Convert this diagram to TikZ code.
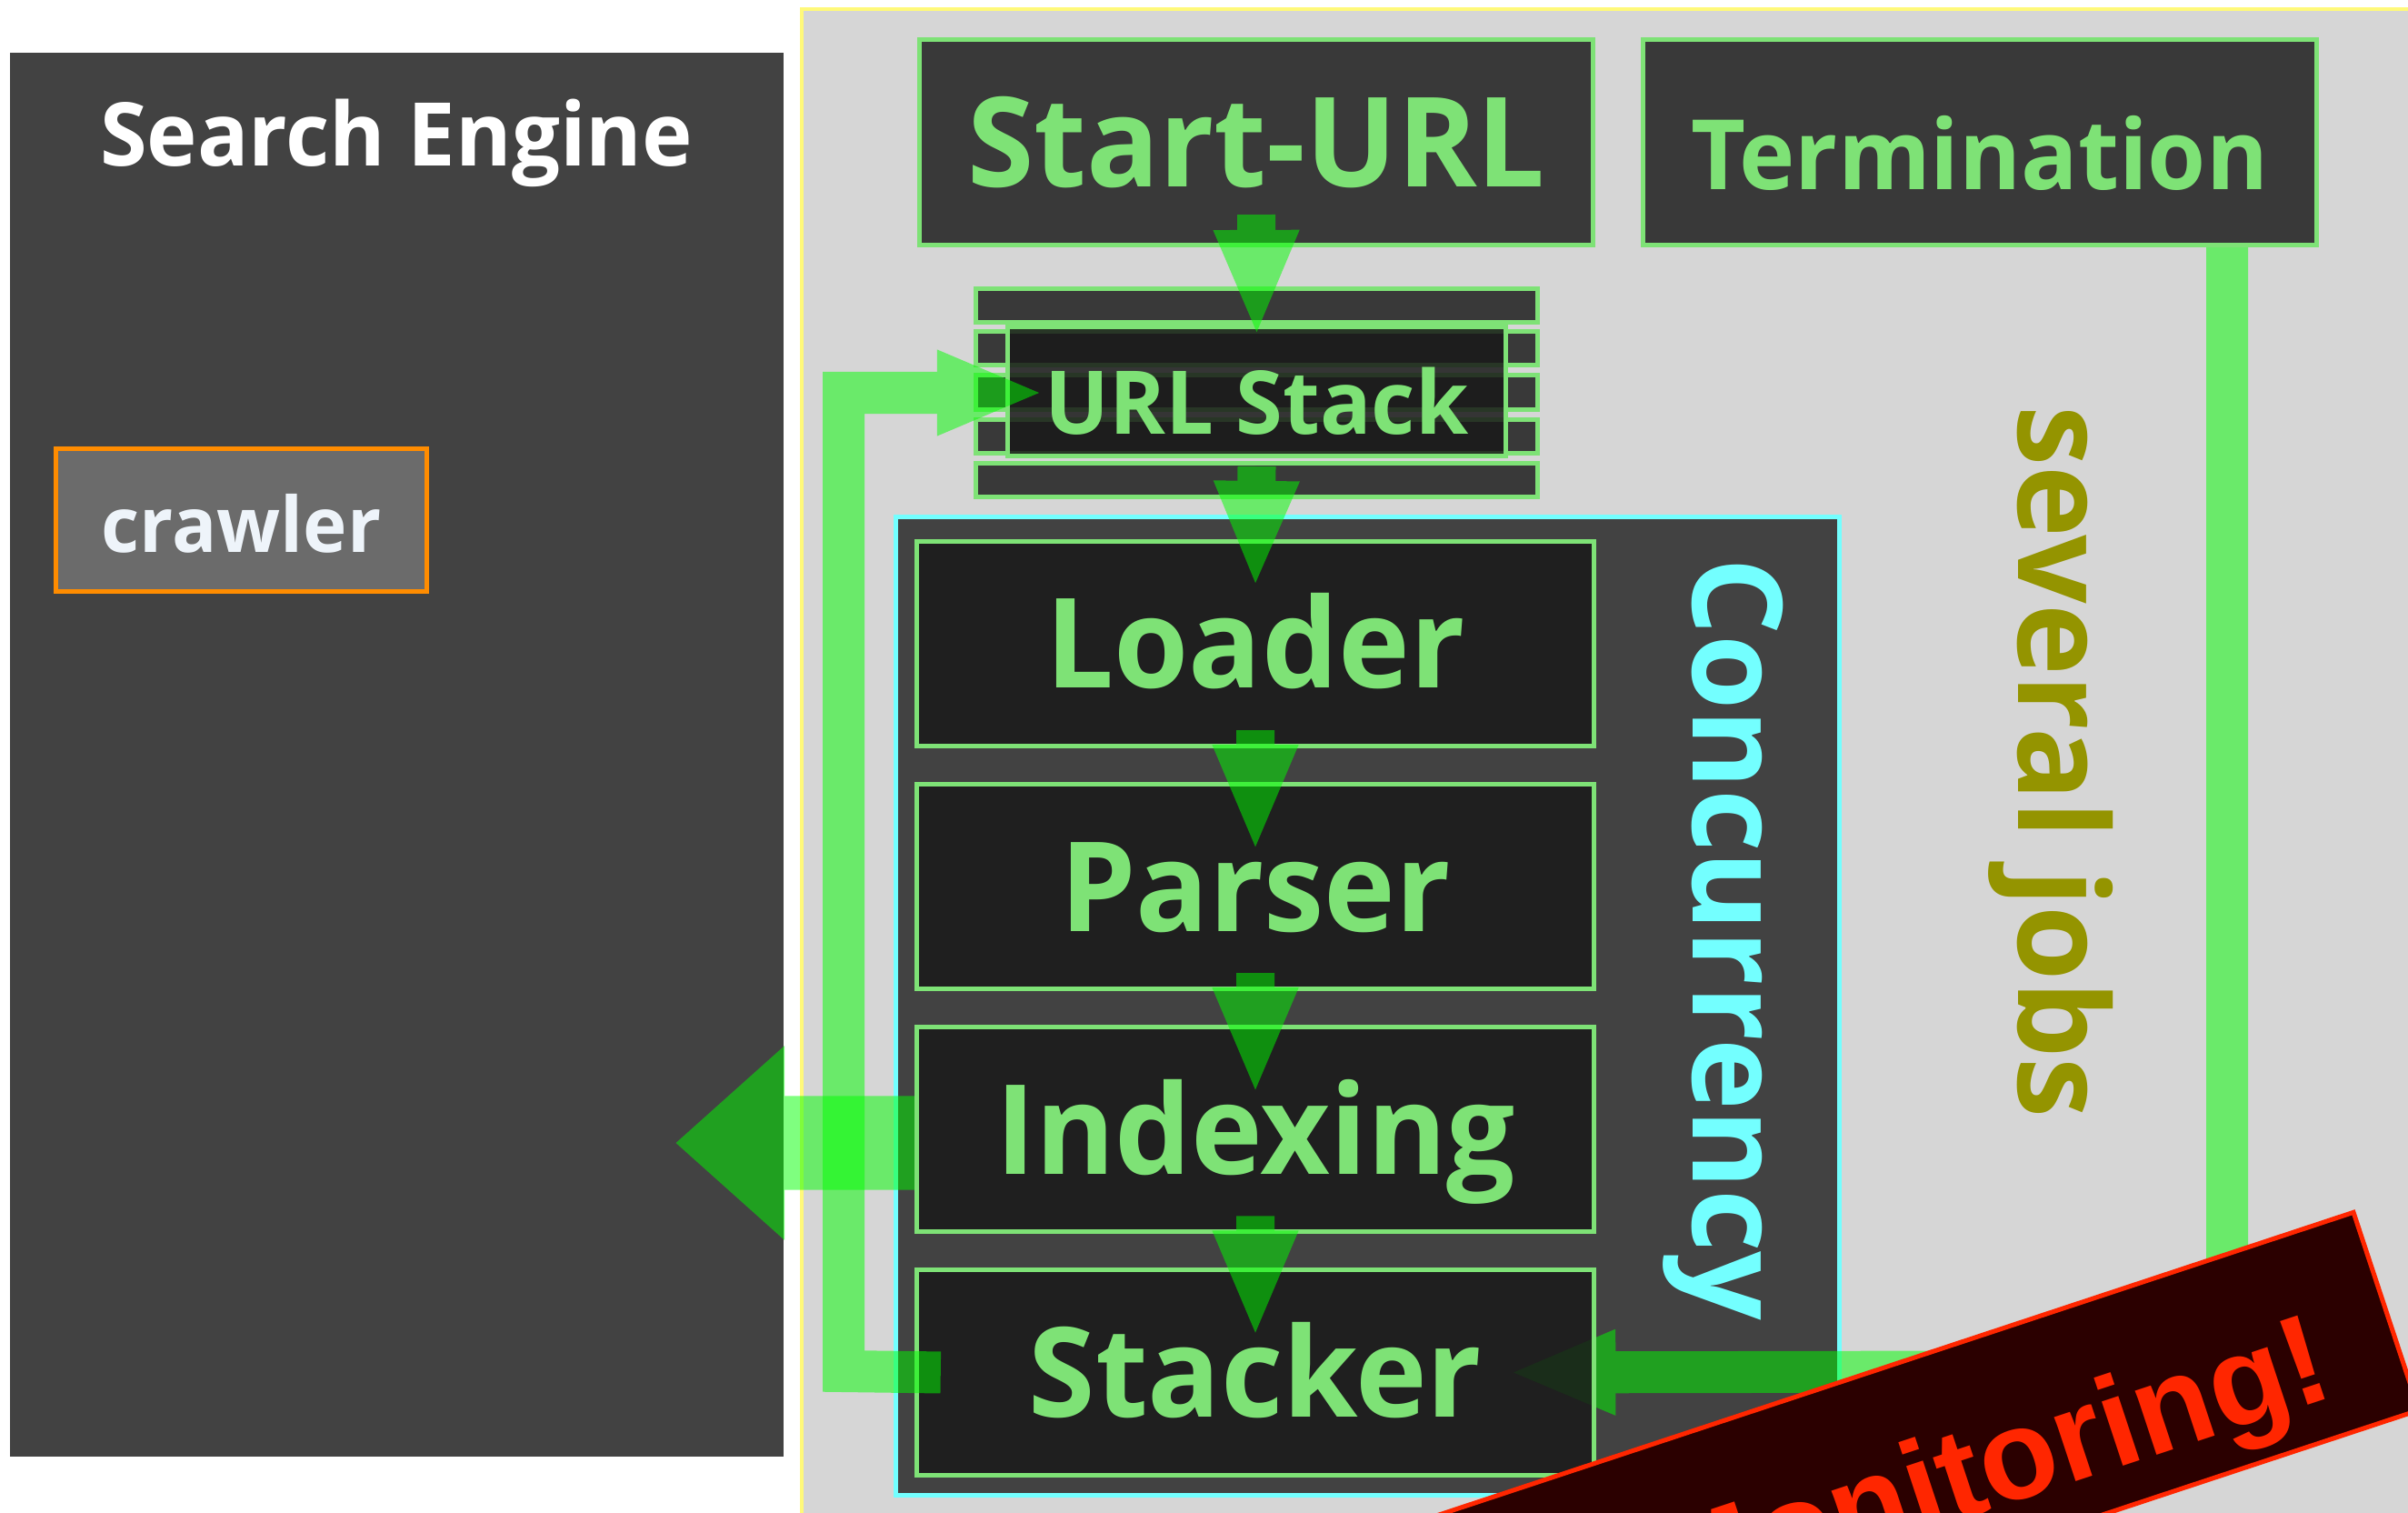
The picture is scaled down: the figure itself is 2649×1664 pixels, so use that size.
\documentclass[tikz,border=0pt]{standalone}
\usepackage{fontspec}
\setmainfont{Open Sans}[FakeStretch=0.97]
\newfontfamily\bannerfont{Liberation Sans}
\usepackage{tikz}
\usetikzlibrary{arrows.meta, positioning, calc}

\definecolor{panelgray}{HTML}{424242}
\definecolor{sheetgray}{HTML}{D6D6D6}
\definecolor{sheetyellow}{HTML}{FFF97A}
\definecolor{boxgreen}{HTML}{7EE276}
\definecolor{boxdark}{HTML}{191919}
\definecolor{topdark}{HTML}{393939}
\definecolor{crawlgray}{HTML}{6B6B6B}
\definecolor{crawlorange}{HTML}{FF8C00}
\definecolor{crawltext}{HTML}{EEF4FA}
\definecolor{concyan}{HTML}{73FFFF}
\definecolor{jobolive}{HTML}{949400}
\definecolor{alarmred}{HTML}{FF2600}
\definecolor{alarmdark}{HTML}{2B0000}
\definecolor{flowgreen}{HTML}{00FF00}

\newcommand{\stagesize}{\fontsize{39pt}{39pt}\selectfont}
\newcommand{\termsize}{\fontsize{30.4pt}{30.4pt}\selectfont}
\newcommand{\stacksize}{\fontsize{27.5pt}{27.5pt}\selectfont}
\newcommand{\titlesize}{\fontsize{27.5pt}{27.5pt}\selectfont}
\newcommand{\crawlsize}{\fontsize{24pt}{24pt}\selectfont}
\newcommand{\alarmsize}{\fontsize{40pt}{40pt}\selectfont}

\pgfdeclarelayer{backdrop}
\pgfdeclarelayer{underlay}
\pgfsetlayers{backdrop,underlay,main}

\begin{document}
\begin{tikzpicture}[
		    x=0.01cm, y=-0.01cm, node distance=0.37cm,
		    every node/.style={inner sep=0pt}
		]
		\tikzset{
		    panel/.style={fill=panelgray},
		    conpanel/.style={fill=panelgray, draw=concyan, line width=0.05cm, minimum width=10.38cm, minimum height=10.76cm},
		    crawlerbox/.style={draw=crawlorange, fill=crawlgray, line width=0.05cm, minimum width=4.08cm, minimum height=1.57cm, text=crawltext, font=\bfseries\crawlsize, text height=20pt, text depth=0pt},
		    topbox/.style={draw=boxgreen, fill=topdark, line width=0.05cm, minimum width=7.41cm, minimum height=2.26cm, text=boxgreen, font=\bfseries\stagesize, text height=27.8pt, text depth=0pt},
		    rail/.style={draw=boxgreen, fill=topdark, line width=0.05cm, minimum width=6.18cm, minimum height=0.37cm},
		    stage/.style={draw=boxgreen, fill=boxdark, fill opacity=0.85, text opacity=1, line width=0.05cm, minimum width=7.45cm, minimum height=2.25cm, text=boxgreen, font=\bfseries\stagesize, text height=27.8pt, text depth=0pt},
		    flow/.style={draw=flowgreen, line width=0.42cm, -{Triangle[length=1.18cm, width=0.85cm]}},
		    loopflow/.style={flow, line width=0.46cm},
		    bigflow/.style={flow, line width=1.03cm, -{Triangle[length=1.2cm, width=2.06cm]}},
		    glass/.style={transparency group, opacity=0.5},
		    sidetext/.style={rotate=-90, anchor=base, font=\bfseries\stagesize}
		}
		\useasboundingbox (0,0) rectangle (2649,1664);
		\begin{pgfonlayer}{backdrop}
		  \fill[white] (0,0) rectangle (2649,1664);
		  \node[panel, minimum width=8.51cm, minimum height=15.44cm] (engine) at (436.5,830) {};
		  % the crawler sheet
		  \draw[sheetyellow, fill=sheetgray, line width=0.04cm] (882,10) rectangle (2750,1750);
		  \node[conpanel] (conc) at (1504.5,1106.5) {};
		\end{pgfonlayer}

		\node[anchor=base, text=white, font=\bfseries\titlesize] (enginetitle) at (436,183) {Search Engine};
		\node[crawlerbox] (crawler) at (265.5,572) {crawler};

		\node[topbox] (start) at (1382,156.5) {Start-URL};
		\node[topbox, font=\bfseries\termsize, text height=29.3pt] (term) at (2178,156.5) {Termination};

		% URL stack
		\foreach \y/\n in {336/stacktop, 383/rail1, 431.5/rail2, 480/rail3, 528/stackbot}
		  \node[rail] (\n) at (1382.5,\y) {};
		\node[stage, minimum width=5.48cm, minimum height=1.42cm, font=\bfseries\stacksize, text height=26.5pt] (urlstack) at (1382.5,430.5) {URL Stack};

		\node[stage] (loader) at (1381,708) {Loader};
		\node[stage, below=of loader] (parser) {Parser};
		\node[stage, below=of parser] (indexing) {Indexing};
		\node[stage, below=of indexing] (stacker) {Stacker};

		\node[sidetext, text=concyan] (conctext) at (1862,1033) {Concurrency};
		\node[sidetext, text=jobolive] (jobs) at (2220,838) {several jobs};

		% connectors
		\coordinate (tcorner) at (2450,1508);
		\coordinate (loopx) at (928,1508);
		\coordinate (enginein) at (743,1257);
		\begin{pgfonlayer}{underlay}
		  \begin{scope}[glass]
		    \draw[loopflow] (term.south -| tcorner) -- (tcorner) -- ($(stacker.east)+(-97,0)$);
		  \end{scope}
		\end{pgfonlayer}
		\begin{scope}[glass]
		  \draw[loopflow] ($(stacker.west)+(29,0)$) -- (loopx) |- ($(urlstack.west)+(43,1.5)$);
		  \draw[flow] ($(start.south)+(0,-36)$) -- ($(urlstack.north)+(0,14)$);
		  \draw[flow] ($(stackbot.south)+(0,-36)$) -- ($(loader.north)+(0,54)$);
		  \foreach \a/\b in {loader/parser, parser/indexing, indexing/stacker}
		    \draw[flow] ($(\a.south)+(0,-20)$) -- ($(\b.north)+(0,77)$);
		\end{scope}
		\begin{scope}[glass]
		  \draw[bigflow] (enginein -| indexing.west) -- (enginein);
		\end{scope}

		% monitoring banner
		\node[rotate=18.3, draw=alarmred, line width=0.05cm, fill=alarmdark, minimum width=14cm, minimum height=2.29cm] (alarm) at (1960,1662) {};
		\node[rotate=18.3, anchor=base, text=alarmred, font=\bannerfont\bfseries\alarmsize] (alarmtext) at (2204,1656) {Monitoring!};
		\end{tikzpicture}
\end{document}
